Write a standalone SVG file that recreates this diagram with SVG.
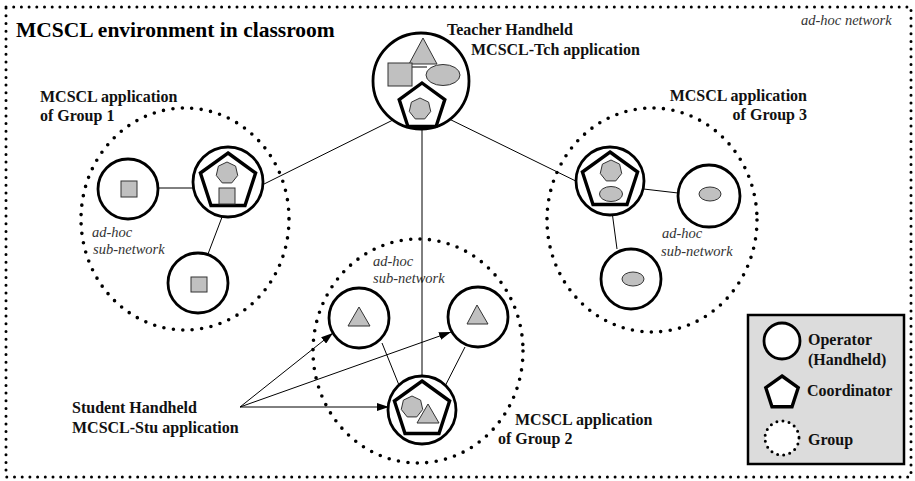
<svg xmlns="http://www.w3.org/2000/svg" xmlns:xlink="http://www.w3.org/1999/xlink" width="915" height="481" viewBox="0 0 915 481">
  <style>
    .bg { fill: #ffffff; }
    .frame { fill: none; stroke: #000; stroke-width: 3; stroke-dasharray: 0 7.7; stroke-linecap: round; }
    .group { fill: none; stroke: #000; stroke-width: 3.6; stroke-dasharray: 0 9.5; stroke-linecap: round; }
    .op { fill: #fff; stroke: #000; stroke-width: 2.8; }
    .coord { fill: #fff; stroke: #000; stroke-width: 3.4; stroke-linejoin: miter; }
    .shape { fill: #c0c0c0; stroke: #333; stroke-width: 1; }
    .link { stroke: #000; stroke-width: 1; fill: none; }
    .arrow { stroke: #000; stroke-width: 1; fill: none; marker-end: url(#head); }
    .title { font-family: "Liberation Serif", "Times New Roman", serif; font-weight: bold; font-size: 21.5px; fill: #000; }
    .label { font-family: "Liberation Serif", "Times New Roman", serif; font-weight: bold; font-size: 16px; fill: #111; }
    .note { font-family: "Liberation Serif", "Times New Roman", serif; font-style: italic; font-size: 14.5px; fill: #333; }
    .legend-box { fill: #dcdcdc; stroke: #000; stroke-width: 2.5; }
  </style>
  <defs>
    <marker id="head" viewBox="0 0 12 8" refX="12" refY="4" markerWidth="12" markerHeight="8" markerUnits="userSpaceOnUse" orient="auto">
      <path d="M0,0 L12,4 L0,8 Z" fill="#000"/>
    </marker>
    <polygon id="hep" points="0,-11 8.6,-6.86 10.72,2.45 4.77,9.91 -4.77,9.91 -10.72,2.45 -8.6,-6.86"/>
  </defs>

  <rect class="bg" x="0" y="0" width="915" height="481"/>

  <!-- classroom ad-hoc network boundary -->
  <rect class="frame" x="6" y="7" width="905" height="470"/>
  <text class="title" x="16" y="37">MCSCL environment in classroom</text>
  <text class="note" x="801" y="25">ad-hoc network</text>

  <!-- group boundaries -->
  <g id="group1">
    <ellipse class="group" cx="185" cy="219" rx="104" ry="111"/>
    <text class="label" x="40" y="102">MCSCL application</text>
    <text class="label" x="40" y="121">of Group 1</text>
    <text class="note" x="92" y="237">ad-hoc</text>
    <text class="note" x="93" y="254">sub-network</text>
  </g>
  <g id="group3">
    <ellipse class="group" cx="652" cy="220" rx="105" ry="112"/>
    <text class="label" x="807" y="101" text-anchor="end">MCSCL application</text>
    <text class="label" x="807" y="120" text-anchor="end">of Group 3</text>
    <text class="note" x="662" y="238">ad-hoc</text>
    <text class="note" x="661" y="256">sub-network</text>
  </g>
  <g id="group2">
    <ellipse class="group" cx="418" cy="351" rx="105" ry="112"/>
    <text class="label" x="515" y="425">MCSCL application</text>
    <text class="label" x="498" y="444">of Group 2</text>
    <text class="note" x="373" y="266">ad-hoc</text>
    <text class="note" x="373" y="283">sub-network</text>
  </g>

  <!-- connectors -->
  <g id="connectors">
    <line class="link" x1="401" y1="116" x2="252" y2="190"/>
    <line class="link" x1="443" y1="116" x2="588" y2="187"/>
    <line class="link" x1="422" y1="127" x2="422" y2="382"/>
    <line class="link" x1="158" y1="188" x2="203" y2="188"/>
    <line class="link" x1="227" y1="204" x2="208" y2="254"/>
    <line class="link" x1="635" y1="188" x2="678" y2="193"/>
    <line class="link" x1="611" y1="204" x2="617" y2="249"/>
    <line class="link" x1="382" y1="343" x2="405" y2="400"/>
    <line class="link" x1="465" y1="347" x2="440" y2="396"/>
    <line class="arrow" x1="240" y1="407" x2="333" y2="333"/>
    <line class="arrow" x1="240" y1="407" x2="451" y2="332"/>
    <line class="arrow" x1="240" y1="407" x2="389" y2="407"/>
  </g>

  <!-- teacher handheld -->
  <g id="teacher">
    <circle class="op" cx="421" cy="81" r="48"/>
    <polygon class="shape" points="423,38 437,64 409,64"/>
    <line class="link" x1="412" y1="67" x2="427" y2="67"/>
    <rect class="shape" x="388" y="63" width="24" height="23"/>
    <ellipse class="shape" cx="443" cy="75" rx="17" ry="10.5"/>
    <polygon class="coord" points="422,83 444.8,99.6 436.1,126.4 407.9,126.4 399.2,99.6"/>
    <use href="#hep" class="shape" x="420" y="109"/>
    <text class="label" x="447" y="35">Teacher Handheld</text>
    <text class="label" x="471" y="55">MCSCL-Tch application</text>
  </g>

  <!-- group 1 handhelds -->
  <g id="g1-left">
    <circle class="op" cx="128" cy="189" r="30"/>
    <rect class="shape" x="121" y="181" width="16" height="16"/>
  </g>
  <g id="g1-coordinator">
    <circle class="op" cx="228" cy="182" r="35"/>
    <polygon class="coord" points="228,153 255.6,173 245,205.5 211,205.5 200.4,173"/>
    <use href="#hep" class="shape" x="227" y="173"/>
    <rect class="shape" x="219" y="188" width="16" height="16"/>
  </g>
  <g id="g1-bottom">
    <circle class="op" cx="198" cy="283" r="30"/>
    <rect class="shape" x="191" y="277" width="16" height="15"/>
  </g>

  <!-- group 3 handhelds -->
  <g id="g3-coordinator">
    <circle class="op" cx="610" cy="181" r="34"/>
    <polygon class="coord" points="610,152 637.6,172 627,204.5 593,204.5 582.4,172"/>
    <use href="#hep" class="shape" x="611" y="171"/>
    <ellipse class="shape" cx="611" cy="194" rx="11.5" ry="7.5"/>
  </g>
  <g id="g3-right">
    <circle class="op" cx="709" cy="196" r="31"/>
    <ellipse class="shape" cx="710" cy="194" rx="11" ry="7"/>
  </g>
  <g id="g3-bottom">
    <circle class="op" cx="631" cy="279" r="30"/>
    <ellipse class="shape" cx="633" cy="279" rx="11" ry="7"/>
  </g>

  <!-- group 2 handhelds -->
  <g id="g2-left">
    <circle class="op" cx="359" cy="318" r="30"/>
    <polygon class="shape" points="359,307 370,326 348,326"/>
  </g>
  <g id="g2-right">
    <circle class="op" cx="478" cy="317" r="30"/>
    <polygon class="shape" points="477,305 488,324 467,324"/>
  </g>
  <g id="g2-coordinator">
    <circle class="op" cx="422" cy="410" r="34"/>
    <polygon class="coord" points="422,381 449.6,401 439,433.5 405,433.5 394.4,401"/>
    <use href="#hep" class="shape" x="412" y="407"/>
    <polygon class="shape" points="428,404 439,423 417,423"/>
  </g>

  <g id="student-label">
    <text class="label" x="72" y="413">Student Handheld</text>
    <text class="label" x="72" y="433">MCSCL-Stu application</text>
  </g>

  <!-- legend -->
  <g id="legend">
    <rect class="legend-box" x="748" y="315" width="156" height="149"/>
    <circle class="op" cx="782" cy="341" r="18"/>
    <text class="label" x="808" y="345">Operator</text>
    <text class="label" x="808" y="365">(Handheld)</text>
    <polygon class="coord" points="782,376 798.2,387.7 792,406.8 772,406.8 765.8,387.7"/>
    <text class="label" x="807" y="396">Coordinator</text>
    <circle cx="782" cy="438" r="17" fill="#fff" stroke="#000" stroke-width="3" stroke-dasharray="0 6.2" stroke-linecap="round"/>
    <text class="label" x="808" y="445">Group</text>
  </g>
</svg>
